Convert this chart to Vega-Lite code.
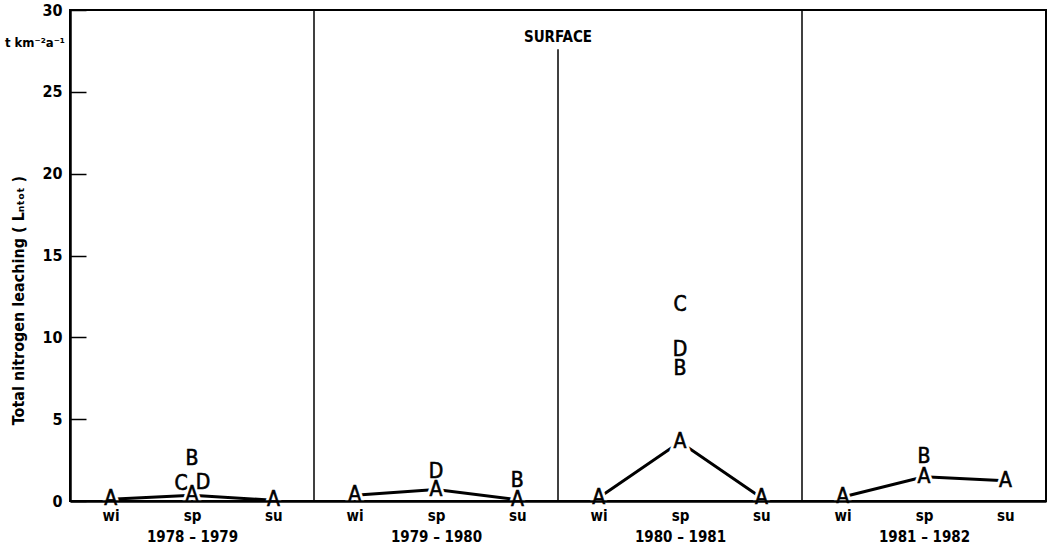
{
  "$schema": "https://vega.github.io/schema/vega-lite/v6.json",
  "width": 976,
  "height": 491,
  "autosize": {"type": "none"},
  "padding": {"left": 70, "top": 10, "right": 5, "bottom": 53},
  "background": "white",
  "config": {
    "view": {"stroke": "black", "strokeWidth": 2},
    "font": "DejaVu Sans Condensed"
  },
  "datasets": {
    "points": [
      {"year": "1978 – 1979", "season": "wi", "slot": 0, "series": "A", "value": 0.1},
      {"year": "1978 – 1979", "season": "sp", "slot": 1, "series": "A", "value": 0.35},
      {"year": "1978 – 1979", "season": "su", "slot": 2, "series": "A", "value": 0.05},
      {"year": "1978 – 1979", "season": "sp", "slot": 1, "series": "B", "value": 2.55},
      {"year": "1978 – 1979", "season": "sp", "slot": 1, "series": "C", "value": 1.05},
      {"year": "1978 – 1979", "season": "sp", "slot": 1, "series": "D", "value": 1.1},
      {"year": "1979 – 1980", "season": "wi", "slot": 3, "series": "A", "value": 0.35},
      {"year": "1979 – 1980", "season": "sp", "slot": 4, "series": "A", "value": 0.7},
      {"year": "1979 – 1980", "season": "su", "slot": 5, "series": "A", "value": 0.08},
      {"year": "1979 – 1980", "season": "sp", "slot": 4, "series": "D", "value": 1.78},
      {"year": "1979 – 1980", "season": "su", "slot": 5, "series": "B", "value": 1.2},
      {"year": "1980 – 1981", "season": "wi", "slot": 6, "series": "A", "value": 0.2},
      {"year": "1980 – 1981", "season": "sp", "slot": 7, "series": "A", "value": 3.6},
      {"year": "1980 – 1981", "season": "su", "slot": 8, "series": "A", "value": 0.2},
      {"year": "1980 – 1981", "season": "sp", "slot": 7, "series": "C", "value": 11.95},
      {"year": "1980 – 1981", "season": "sp", "slot": 7, "series": "D", "value": 9.2},
      {"year": "1980 – 1981", "season": "sp", "slot": 7, "series": "B", "value": 8.05},
      {"year": "1981 – 1982", "season": "wi", "slot": 9, "series": "A", "value": 0.24},
      {"year": "1981 – 1982", "season": "sp", "slot": 10, "series": "A", "value": 1.48},
      {"year": "1981 – 1982", "season": "su", "slot": 11, "series": "A", "value": 1.24},
      {"year": "1981 – 1982", "season": "sp", "slot": 10, "series": "B", "value": 2.7}
    ],
    "dividers": [
      {"slot": 2.5, "value": 0, "top": 30},
      {"slot": 5.5, "value": 0, "top": 27.6},
      {"slot": 8.5, "value": 0, "top": 30}
    ],
    "notes": [
      {"slot": 5.5, "value": 28.35, "label": "SURFACE", "kind": "surface"},
      {"slot": -0.5, "value": 28.0, "label": "t km⁻²a⁻¹", "kind": "unit"}
    ]
  },
  "encoding": {
    "x": {
      "field": "slot",
      "type": "quantitative",
      "scale": {"domain": [-0.5, 11.5], "nice": false, "zero": false},
      "axis": {
        "values": [0, 1, 2, 3, 4, 5, 6, 7, 8, 9, 10, 11],
        "labelExpr": "datum.value % 3 == 1 ? ['sp', ['1978 – 1979', '1979 – 1980', '1980 – 1981', '1981 – 1982'][floor(datum.value / 3)]] : (datum.value % 3 == 0 ? 'wi' : 'su')",
        "ticks": false,
        "grid": false,
        "domainColor": "black",
        "domainWidth": 2.5,
        "labelColor": "black",
        "labelFont": "DejaVu Sans Condensed",
        "labelFontWeight": "bold",
        "labelFontSize": 15,
        "labelPadding": 7,
        "labelLineHeight": 21,
        "labelBaseline": "top",
        "labelFlush": false,
        "labelOverlap": false,
        "title": null,
        "zindex": 1
      }
    },
    "y": {
      "field": "value",
      "type": "quantitative",
      "scale": {"domain": [0, 30], "nice": false},
      "axis": {
        "values": [0, 5, 10, 15, 20, 25, 30],
        "grid": false,
        "tickSize": -16,
        "tickWidth": 1.5,
        "tickColor": "black",
        "domainColor": "black",
        "domainWidth": 2.5,
        "labelColor": "black",
        "labelFont": "DejaVu Sans Condensed",
        "labelFontWeight": "bold",
        "labelFontSize": 16,
        "labelPadding": 24,
        "title": "Total nitrogen leaching ( Lₙₜₒₜ )",
        "titleFont": "DejaVu Sans Condensed",
        "titleFontWeight": "bold",
        "titleFontSize": 16,
        "titleColor": "black",
        "titleX": -52,
        "titleY": 290,
        "titleAngle": -90,
        "titleAlign": "center",
        "titleBaseline": "middle"
      }
    }
  },
  "layer": [
    {
      "data": {"name": "dividers"},
      "mark": {"type": "rule", "color": "black", "strokeWidth": 1.5},
      "encoding": {"y2": {"field": "top"}}
    },
    {
      "data": {"name": "points"},
      "transform": [{"filter": "datum.series == 'A'"}],
      "mark": {"type": "line", "color": "black", "strokeWidth": 3},
      "encoding": {"detail": {"field": "year"}}
    },
    {
      "data": {"name": "points"},
      "transform": [{"filter": "!(datum.year == '1978 – 1979' && (datum.series == 'C' || datum.series == 'D'))"}],
      "mark": {"type": "text", "fontSize": 21, "font": "DejaVu Sans Condensed", "stroke": "white", "strokeWidth": 6, "fill": "white", "baseline": "middle"},
      "encoding": {"text": {"field": "series"}}
    },
    {
      "data": {"name": "points"},
      "transform": [{"filter": "datum.year == '1978 – 1979' && datum.series == 'C'"}],
      "mark": {"type": "text", "fontSize": 21, "font": "DejaVu Sans Condensed", "stroke": "white", "strokeWidth": 6, "fill": "white", "baseline": "middle", "dx": -11},
      "encoding": {"text": {"field": "series"}}
    },
    {
      "data": {"name": "points"},
      "transform": [{"filter": "datum.year == '1978 – 1979' && datum.series == 'D'"}],
      "mark": {"type": "text", "fontSize": 21, "font": "DejaVu Sans Condensed", "stroke": "white", "strokeWidth": 6, "fill": "white", "baseline": "middle", "dx": 11},
      "encoding": {"text": {"field": "series"}}
    },
    {
      "data": {"name": "points"},
      "transform": [{"filter": "!(datum.year == '1978 – 1979' && (datum.series == 'C' || datum.series == 'D'))"}],
      "mark": {"type": "text", "fontSize": 21, "font": "DejaVu Sans Condensed", "fill": "black", "stroke": "black", "strokeWidth": 0.6, "baseline": "middle"},
      "encoding": {"text": {"field": "series"}}
    },
    {
      "data": {"name": "points"},
      "transform": [{"filter": "datum.year == '1978 – 1979' && datum.series == 'C'"}],
      "mark": {"type": "text", "fontSize": 21, "font": "DejaVu Sans Condensed", "fill": "black", "stroke": "black", "strokeWidth": 0.6, "baseline": "middle", "dx": -11},
      "encoding": {"text": {"field": "series"}}
    },
    {
      "data": {"name": "points"},
      "transform": [{"filter": "datum.year == '1978 – 1979' && datum.series == 'D'"}],
      "mark": {"type": "text", "fontSize": 21, "font": "DejaVu Sans Condensed", "fill": "black", "stroke": "black", "strokeWidth": 0.6, "baseline": "middle", "dx": 11},
      "encoding": {"text": {"field": "series"}}
    },
    {
      "data": {"name": "notes"},
      "transform": [{"filter": "datum.kind == 'surface'"}],
      "mark": {"type": "text", "fontSize": 15, "fontWeight": "bold", "font": "DejaVu Sans Condensed", "fill": "black", "baseline": "middle", "align": "center"},
      "encoding": {"text": {"field": "label"}}
    },
    {
      "data": {"name": "notes"},
      "transform": [{"filter": "datum.kind == 'unit'"}],
      "mark": {"type": "text", "fontSize": 13, "fontWeight": "bold", "font": "DejaVu Sans Condensed", "fill": "black", "baseline": "middle", "align": "right", "dx": -5},
      "encoding": {"text": {"field": "label"}}
    }
  ]
}
